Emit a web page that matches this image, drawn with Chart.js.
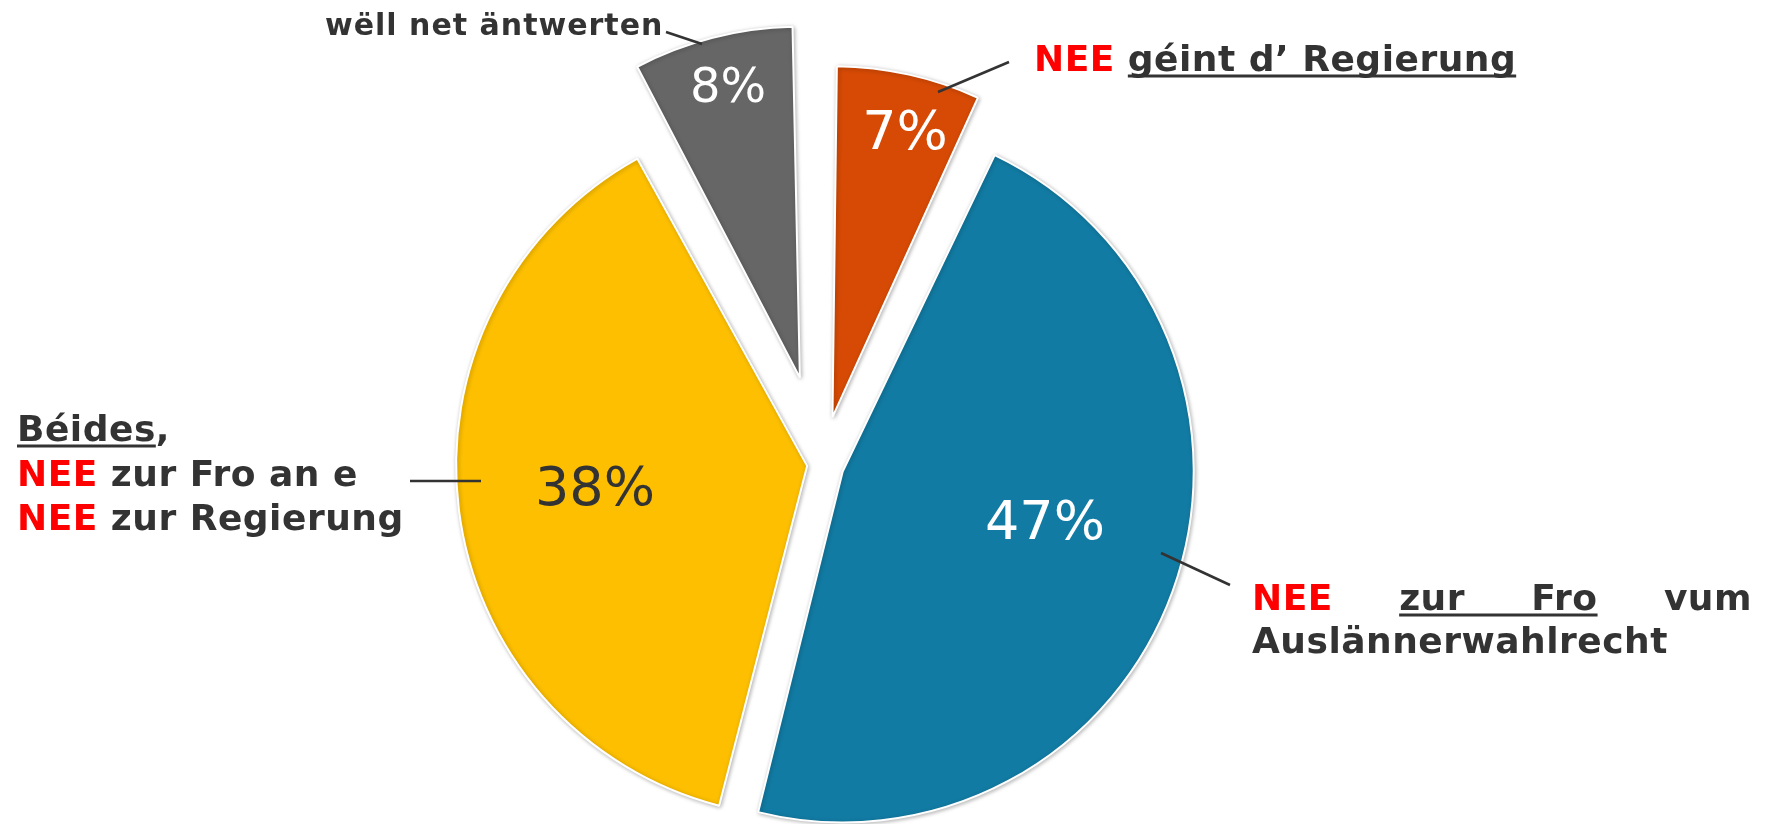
<!DOCTYPE html>
<html>
<head>
<meta charset="utf-8">
<script src="https://cdn.jsdelivr.net/npm/chart.js@4/dist/chart.umd.min.js"></script>
<style>
  html, body { margin: 0; padding: 0; background: #fff; }
  #wrap { width: 1769px; height: 824px; position: relative; }
</style>
</head>
<body>
<div id="wrap"><canvas id="pie"></canvas></div>
<script>
// data, clockwise from 12 o'clock
var categories = ['NEE géint d’ Regierung', 'NEE zur Fro vum Auslännerwahlrecht', 'Béides, NEE zur Fro an e NEE zur Regierung', 'wëll net äntwerten'];
var shares = [7, 47, 38, 8];
var sliceColors = ['#D64A05', '#127BA3', '#FDBF00', '#666666'];
var pullOut = [48, 22, 15, 89]; // how far each slice is exploded (px)

var R = 351;
var GREY = '#333333';
var RED = '#FF0000';

// percent labels: x centre, baseline, size, colour
var pctStyle = [
  {x: 905, y: 149, size: 54, color: '#ffffff'},
  {x: 1045, y: 539, size: 54, color: '#ffffff'},
  {x: 595, y: 505, size: 54, color: GREY},
  {x: 728, y: 102, size: 48, color: '#ffffff'}
];

function textRun(ctx, x, y, parts) {
  // parts: [{t, c, u}] drawn left to right, u = underline
  parts.forEach(function(p) {
    var w = ctx.measureText(p.t).width;
    ctx.fillStyle = p.c;
    ctx.fillText(p.t, x, y);
    if (p.u) ctx.fillRect(x, y + 3.5, w, 3);
    x += w;
  });
  return x;
}

function leader(ctx, x1, y1, x2, y2) {
  ctx.beginPath();
  ctx.moveTo(x1, y1);
  ctx.lineTo(x2, y2);
  ctx.lineWidth = 2.5;
  ctx.strokeStyle = GREY;
  ctx.stroke();
}

var sliceLook = {
  id: 'sliceLook',
  beforeDatasetsDraw: function(chart) {
    // chart.js grows exploded arcs a bit, keep them all at R
    chart.getDatasetMeta(0).data.forEach(function(arc, i) {
      var fix = 1 - Math.sin(Math.min(Math.PI, arc.circumference));
      arc.outerRadius = R - pullOut[i] * fix;
    });
    var ctx = chart.ctx;
    ctx.save();
    ctx.shadowColor = 'rgba(0,0,0,0.28)';
    ctx.shadowBlur = 4;
    ctx.shadowOffsetX = 1;
    ctx.shadowOffsetY = 1;
  },
  afterDatasetsDraw: function(chart) {
    chart.ctx.restore();
  }
};

var labels = {
  id: 'labels',
  afterDraw: function(chart) {
    var ctx = chart.ctx;
    ctx.save();
    ctx.textBaseline = 'alphabetic';

    // percentages
    ctx.textAlign = 'center';
    shares.forEach(function(v, i) {
      var s = pctStyle[i];
      ctx.font = s.size + 'px "DejaVu Sans"';
      ctx.fillStyle = s.color;
      ctx.fillText(v + '%', s.x, s.y);
    });

    ctx.textAlign = 'left';
    ctx.fillStyle = GREY;

    // wëll net äntwerten
    ctx.font = 'bold 30px "DejaVu Sans"';
    ctx.letterSpacing = '1px';
    textRun(ctx, 325, 35, [{t: categories[3], c: GREY}]);
    leader(ctx, 666, 32, 702, 44);

    ctx.font = 'bold 36px "DejaVu Sans"';
    ctx.letterSpacing = '0.5px';

    // NEE géint d' Regierung
    var x = textRun(ctx, 1034, 71, [{t: 'NEE', c: RED}, {t: ' ', c: GREY}]);
    textRun(ctx, x, 71, [{t: 'géint d’ Regierung', c: GREY, u: true}]);
    leader(ctx, 1009, 62, 938, 92);

    // Béides block
    x = textRun(ctx, 17, 441, [{t: 'Béides', c: GREY, u: true}]);
    textRun(ctx, x, 441, [{t: ',', c: GREY}]);
    textRun(ctx, 17, 486, [{t: 'NEE', c: RED}, {t: ' zur Fro an e', c: GREY}]);
    textRun(ctx, 17, 530, [{t: 'NEE', c: RED}, {t: ' zur Regierung', c: GREY}]);
    leader(ctx, 410, 481, 481, 481);

    // justified line: NEE zur Fro vum
    var words = [{t: 'NEE', c: RED}, {t: 'zur', c: GREY}, {t: 'Fro', c: GREY}, {t: 'vum', c: GREY}];
    var left = 1252, right = 1752;
    var total = 0;
    words.forEach(function(w) { w.w = ctx.measureText(w.t).width; total += w.w; });
    var gap = (right - left - total) / (words.length - 1);
    var wx = left, ulStart = 0, ulEnd = 0;
    words.forEach(function(w, i) {
      ctx.fillStyle = w.c;
      ctx.fillText(w.t, wx, 610);
      if (i === 1) ulStart = wx;
      if (i === 2) ulEnd = wx + w.w;
      wx += w.w + gap;
    });
    ctx.fillStyle = GREY;
    ctx.fillRect(ulStart, 613.5, ulEnd - ulStart, 3);
    textRun(ctx, 1252, 653, [{t: 'Auslännerwahlrecht', c: GREY}]);
    leader(ctx, 1161, 553, 1230, 585);

    ctx.restore();
  }
};

var canvas = document.getElementById('pie');
var pieChart = new Chart(canvas, {
  type: 'pie',
  data: {
    labels: categories,
    datasets: [{
      data: shares,
      backgroundColor: sliceColors,
      borderColor: '#ffffff',
      borderWidth: 2,
      offset: pullOut.map(function(d) { return d * 4; }), // arc draws offset/4
      hoverOffset: 0
    }]
  },
  options: {
    responsive: true,
    maintainAspectRatio: false,
    animation: false,
    events: [],
    radius: R,
    layout: { padding: { left: 0, right: 125, top: 104, bottom: 0 } },
    plugins: {
      legend: { display: false },
      tooltip: { enabled: false }
    }
  },
  plugins: [sliceLook, labels]
});
</script>
</body>
</html>
